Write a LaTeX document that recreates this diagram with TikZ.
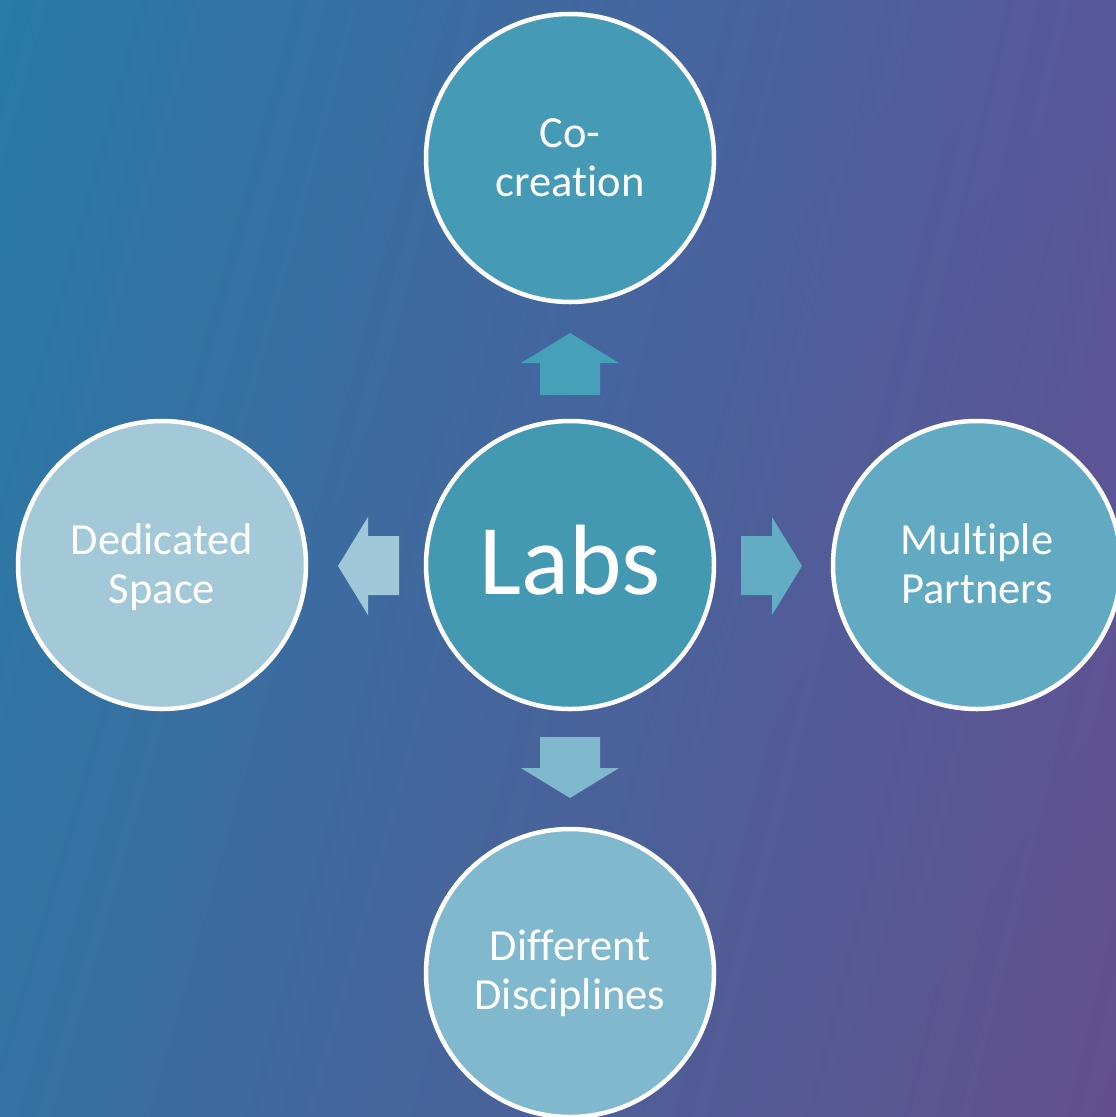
\documentclass[tikz,border=0pt]{standalone}
\usepackage{fontspec}
\setmainfont{Carlito}[Ligatures=NoCommon]
\usetikzlibrary{shadings}
\definecolor{bgUL}{HTML}{277BA6}
\definecolor{bgUR}{HTML}{58579A}
\definecolor{bgLL}{HTML}{3571A2}
\definecolor{bgLR}{HTML}{634F8E}
\definecolor{cTop}{HTML}{459BB5}
\definecolor{cMid}{HTML}{4499B2}
\definecolor{cLeft}{HTML}{A3C9D9}
\definecolor{cRight}{HTML}{62AAC2}
\definecolor{cBot}{HTML}{80B8CD}
\definecolor{aUp}{HTML}{46A0BA}
\definecolor{aLeft}{HTML}{A0C8D9}
\definecolor{aRight}{HTML}{62ACC4}
\definecolor{aDown}{HTML}{80B8CD}
\begin{document}
\begin{tikzpicture}[x=1bp,y=-1bp,
  bubble/.style={circle, draw=white, line width=4.5bp, minimum size=288bp, inner sep=0pt},
  lbl/.style={text=white, font=\fontsize{44.5bp}{49bp}\selectfont, align=center, anchor=base, inner sep=0pt},
  bigl/.style={text=white, font=\fontsize{100bp}{110bp}\selectfont, anchor=base, inner sep=0pt}]
\useasboundingbox (0,0) rectangle (1116,1117);
\clip (0,0) rectangle (1116,1117);
\shade[upper left=bgUL, upper right=bgUR, lower left=bgLL, lower right=bgLR] (0,0) rectangle (1116,1117);

% circles
\node[bubble, fill=cTop]   (co)   at (570,158) {};
\node[bubble, fill=cMid]   (labs) at (570,565) {};
\node[bubble, fill=cLeft]  (ded)  at (162,565) {};
\node[bubble, fill=cRight] (mul)  at (977,565) {};
\node[bubble, fill=cBot]   (dif)  at (570,973) {};

% texts (base anchor = baseline of last line)
\node[lbl] (tco)   at (570,196) {Co-\\creation};
\node[bigl] (tlabs) at (570,594) {Labs};
\node[lbl] (tded)  at (162,603) {Dedicated\\Space};
\node[lbl] (tmul)  at (977,603) {Multiple\\Partners};
\node[lbl] (tdif)  at (570,1009) {Different\\Disciplines};

% block arrows
\fill[aUp]    (570,333) -- (619,363) -- (600,363) -- (600,395) -- (540,395) -- (540,363) -- (521,363) -- cycle;
\fill[aDown]  (570,798) -- (619,768) -- (600,768) -- (600,737) -- (540,737) -- (540,768) -- (521,768) -- cycle;
\fill[aLeft]  (338,566) -- (368,517) -- (368,536) -- (399,536) -- (399,595) -- (368,595) -- (368,615) -- cycle;
\fill[aRight] (802,566) -- (772,517) -- (772,536) -- (741,536) -- (741,595) -- (772,595) -- (772,615) -- cycle;
\end{tikzpicture}
\end{document}
